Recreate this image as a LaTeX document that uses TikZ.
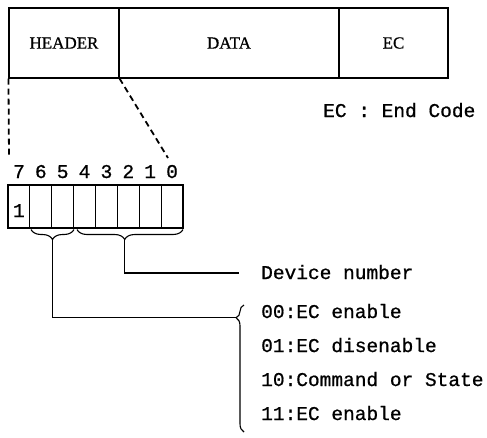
\documentclass[tikz,border=0pt]{standalone}
\usepackage{fontspec}
\setmainfont{Liberation Serif}[FakeBold=0.6]
\newfontfamily\tyfont{Liberation Mono}[FakeBold=0.8]
\usetikzlibrary{decorations.pathreplacing,calc}
\begin{document}
\begin{tikzpicture}[x=1pt,y=-1pt,
  field/.style={draw, line width=1.1pt, minimum height=70pt, inner sep=0pt, font=\fontsize{17}{17}\selectfont},
  bitcell/.style={draw, line width=1.1pt, minimum width=21.875pt, minimum height=43pt, inner sep=0pt},
  mono/.style={inner sep=0pt, font=\tyfont\fontsize{19.5}{19.5}\selectfont},
  digit/.style={mono, anchor=base},
  item/.style={mono, anchor=base west},
  guide/.style={line width=1.8pt, dash pattern=on 6pt off 4pt},
  wire/.style={line width=1.1pt},
  bracepath/.style={line width=1.1pt, decorate, decoration={brace, mirror, amplitude=#1}},
]
\useasboundingbox (0,0) rectangle (487,437);
% top frame
\node[field, minimum width=110pt] (header) at (64,43) {HEADER};
\node[field, minimum width=220pt] (data) at (229,43) {DATA};
\node[field, minimum width=109pt] (ec) at (393.5,43) {EC};
\node[item] (eclegend) at (323,117) {EC : End Code};
% bit cells
\foreach \k/\b in {0/7,1/6,2/5,3/4,4/3,5/2,6/1,7/0}{
  \node[bitcell] (b\b) at ({8+21.875*\k+10.9375},206.5) {};
  \node[digit] (d\b) at ({8+21.875*\k+10.9375},178) {\b};
}
\node[mono, anchor=base] (one) at ($(b7.center)+(0,10.5)$) {1};
% dashed guides
\coordinate (gl) at (9,157);
\coordinate (gr) at (168,158);
\draw[guide] (header.south west) -- (gl);
\draw[guide] (header.south east) -- (gr);
% small braces
\coordinate (ba) at (31,229.5);
\coordinate (bb) at (74,229.5);
\coordinate (bc) at (77,229.5);
\coordinate (bd) at (183,229.5);
\draw[bracepath=10pt] (ba) -- (bb);
\draw[bracepath=10pt, decoration={aspect=0.45}] (bc) -- (bd);
\coordinate (tipA) at (52.5,239.5);
\coordinate (tipB) at (124.7,239.5);
% big brace
\coordinate (bt) at (244,305);
\coordinate (bbot) at (244,432);
\draw[bracepath=8pt, decoration={aspect=0.1}] (bt) -- (bbot);
\coordinate (tipC) at (236,317.7);
% texts
\node[item] (dev) at (261,279) {Device number};
\node[item] (i0) at (261,318) {00:EC enable};
\node[item] (i1) at (261,352) {01:EC disenable};
\node[item] (i2) at (261,386) {10:Command or State};
\node[item] (i3) at (261,420) {11:EC enable};
% connectors
\coordinate (devend) at (239,273);
\draw[wire] (tipB) |- (devend);
\draw[wire] (tipA) |- (tipC);
\end{tikzpicture}
\end{document}
